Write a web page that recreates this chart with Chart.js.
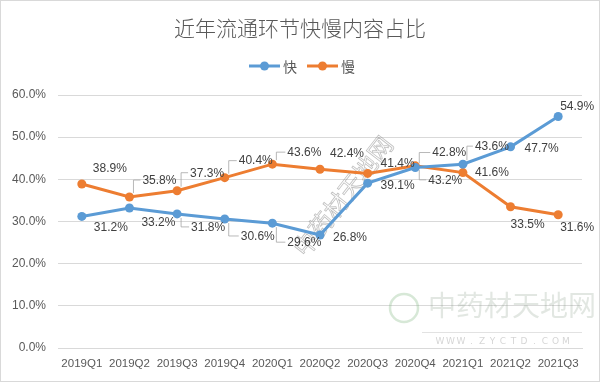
<!DOCTYPE html>
<html><head><meta charset="utf-8">
<script src="https://cdn.jsdelivr.net/npm/chart.js@4/dist/chart.umd.min.js"></script>
<style>html,body{margin:0;padding:0;background:#fff}#wrap{width:600px;height:382px;position:relative}</style>
</head><body><div id="wrap"><canvas id="c" width="600" height="382"></canvas></div>
<script>
// ---- data ----
const titleText = '近年流通环节快慢内容占比';
const categories = ['2019Q1','2019Q2','2019Q3','2019Q4','2020Q1','2020Q2','2020Q3','2020Q4','2021Q1','2021Q2','2021Q3'];
const fastName = '快';
const slowName = '慢';
const fastValues = [31.2, 33.2, 31.8, 30.6, 29.6, 26.8, 39.1, 42.8, 43.6, 47.7, 54.9];
const slowValues = [38.9, 35.8, 37.3, 40.4, 43.6, 42.4, 41.4, 43.2, 41.6, 33.5, 31.6];
const yMin = 0, yMax = 60, yStep = 10;
const watermarkText = '中药材天地网';
const watermarkUrl = 'WWW.ZYCTD.COM';

// ---- label layout (offset of label centre from its point, leader line flag) ----
const fastLabelLayout = [[29,11,0],[29,14,0],[31,13,1],[33,17,1],[32,19,1],[30,2,0],[30,2,0],[34,-15,1],[29,-18,1],[31,1,0],[19,-10,0]];
const slowLabelLayout = [[28,-16,0],[30,-17,1],[30,-18,1],[31,-17,1],[32,-12,1],[27,-16,0],[30,-10,0],[30,14,1],[29,0,0],[17,17,0],[19,12,0]];

const BLUE = '#5b9bd5', ORANGE = '#ed7d31', TXT = '#595959', GRID = '#d9d9d9';
const LABEL_FONT = '12px "Liberation Sans", Arial, sans-serif';

const decor = {
  id: 'decor',
  beforeDraw(chart) {
    const ctx = chart.ctx;
    ctx.save();
    ctx.fillStyle = '#fff';
    ctx.fillRect(0, 0, chart.width, chart.height);
    ctx.restore();
  },
  beforeDatasetsDraw(chart) {
    const ctx = chart.ctx;
    ctx.save();
    // bottom-right logo watermark
    ctx.strokeStyle = 'rgba(140,190,140,0.35)';
    ctx.lineWidth = 2.5;
    ctx.beginPath(); ctx.arc(404, 308, 14, 0, Math.PI * 2); ctx.stroke();
    ctx.fillStyle = 'rgba(140,160,140,0.25)';
    ctx.font = '28px "Noto Sans CJK SC", sans-serif';
    ctx.textAlign = 'left'; ctx.textBaseline = 'middle';
    ctx.fillText(watermarkText, 428, 305);
    ctx.strokeStyle = 'rgba(160,160,160,0.3)'; ctx.lineWidth = 1;
    ctx.beginPath(); ctx.moveTo(422, 332.5); ctx.lineTo(582, 332.5); ctx.stroke();
    ctx.font = '9px "DejaVu Sans", sans-serif';
    ctx.fillStyle = 'rgba(150,150,150,0.4)';
    ctx.textAlign = 'center';
    const chars = watermarkUrl.split('');
    chars.forEach((ch, i) => ctx.fillText(ch, 440 + i * 10.5, 342));
    // diagonal watermark
    ctx.translate(343, 196);
    ctx.rotate(-52 * Math.PI / 180);
    ctx.font = '24px "Noto Sans CJK SC", sans-serif';
    ctx.textAlign = 'center';
    ctx.strokeStyle = 'rgba(140,140,140,0.55)';
    ctx.lineWidth = 0.8;
    ctx.strokeText(watermarkText, 0, 0);
    ctx.restore();
  },
  afterDraw(chart) {
    const ctx = chart.ctx;
    ctx.save();
    // outer border
    ctx.strokeStyle = GRID; ctx.lineWidth = 1;
    ctx.strokeRect(0.5, 0.5, chart.width - 1, chart.height - 1);
    // title
    ctx.fillStyle = TXT;
    ctx.font = '300 21px "Noto Sans CJK SC", sans-serif';
    ctx.textAlign = 'center'; ctx.textBaseline = 'middle';
    ctx.fillText(titleText, 300, 28);
    // legend
    const items = [[fastName, BLUE, 249], [slowName, ORANGE, 307]];
    ctx.font = '14px "Noto Sans CJK SC", sans-serif';
    items.forEach(([name, col, x]) => {
      ctx.strokeStyle = col; ctx.lineWidth = 3;
      ctx.beginPath(); ctx.moveTo(x, 66); ctx.lineTo(x + 31, 66); ctx.stroke();
      ctx.fillStyle = col;
      ctx.beginPath(); ctx.arc(x + 15.5, 66, 4.5, 0, Math.PI * 2); ctx.fill();
      ctx.fillStyle = TXT; ctx.textAlign = 'left';
      ctx.fillText(name, x + 34, 67);
    });
    // data labels
    ctx.font = LABEL_FONT;
    ctx.textBaseline = 'middle'; ctx.textAlign = 'center';
    const layouts = [fastLabelLayout, slowLabelLayout];
    chart.data.datasets.forEach((ds, di) => {
      const meta = chart.getDatasetMeta(di);
      meta.data.forEach((pt, i) => {
        const [dx, dy, leader] = layouts[di][i];
        const text = ds.data[i].toFixed(1) + '%';
        const cx = pt.x + dx, cy = pt.y + dy;
        const w = ctx.measureText(text).width;
        if (leader) {
          const lx = cx - w / 2 - 2;
          const sx = pt.x + 4;
          const sy = pt.y + (dy > 0 ? 4 : -4);
          ctx.strokeStyle = '#a6a6a6'; ctx.lineWidth = 0.8;
          ctx.beginPath();
          ctx.moveTo(sx, sy); ctx.lineTo(sx, cy); ctx.lineTo(lx, cy);
          ctx.stroke();
        }
        ctx.fillStyle = '#404040';
        ctx.fillText(text, cx, cy + 0.5);
      });
    });
    ctx.restore();
  }
};

new Chart(document.getElementById('c'), {
  type: 'line',
  data: {
    labels: categories,
    datasets: [
      { label: fastName, data: fastValues, borderColor: BLUE, backgroundColor: BLUE,
        borderWidth: 3, pointRadius: 4.5, pointBorderWidth: 0, pointHoverRadius: 4.5, tension: 0 },
      { label: slowName, data: slowValues, borderColor: ORANGE, backgroundColor: ORANGE,
        borderWidth: 3, pointRadius: 4.5, pointBorderWidth: 0, pointHoverRadius: 4.5, tension: 0 }
    ]
  },
  options: {
    responsive: false,
    animation: false,
    devicePixelRatio: 1,
    layout: { padding: { top: 95, right: 18, left: 0, bottom: 0 } },
    plugins: { legend: { display: false }, title: { display: false }, tooltip: { enabled: false } },
    scales: {
      x: {
        offset: true,
        grid: { display: false, drawTicks: false },
        border: { display: true, color: GRID, width: 1 },
        ticks: { color: TXT, font: { family: '"Liberation Sans", Arial, sans-serif', size: 11.5 }, padding: 9, maxRotation: 0, autoSkip: false },
        afterFit(s) { s.height = 34; }
      },
      y: {
        min: yMin, max: yMax,
        grid: { color: GRID, lineWidth: 1, drawTicks: false },
        border: { display: false },
        ticks: { stepSize: yStep, color: TXT, padding: 12,
          font: { family: '"Liberation Sans", Arial, sans-serif', size: 12 },
          callback: v => v.toFixed(1) + '%' },
        afterFit(s) { s.width = 58; }
      }
    }
  },
  plugins: [decor]
});
</script>
</body></html>
